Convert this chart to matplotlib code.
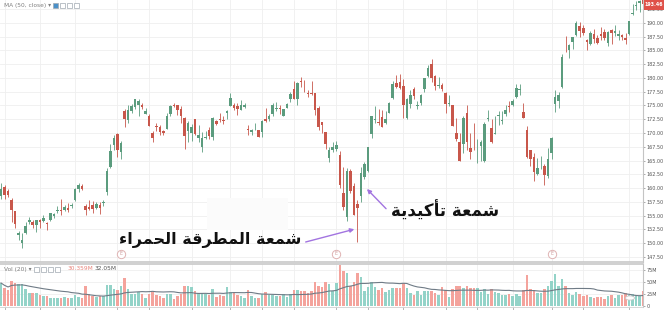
import numpy as np
import pandas as pd
import matplotlib
matplotlib.use("Agg")
import matplotlib.pyplot as plt
from matplotlib.patches import Rectangle

# daily candles, 15 Sep 2017 .. 7 Jun 2018 (one row per month)
opens = [
    158.47, 160.11, 159.51, 157.90, 155.80, 151.54, 149.99, 151.78, 153.80, 153.89, 153.21,
    154.26, 154.01, 153.63, 154.18, 154.97, 155.81, 156.06, 155.97, 156.35, 156.73, 157.90, 159.78, 160.42, 156.75, 156.61, 156.89, 156.29, 156.91, 157.23, 159.29, 163.89, 167.90,
    169.87, 166.60, 174.00, 172.37, 173.91, 174.66, 175.11, 175.11, 173.50, 173.04, 169.97, 171.18, 171.04, 170.29, 170.78, 173.36, 175.10, 175.05, 174.30, 172.63, 170.43,
    169.95, 172.48, 169.06, 167.50, 169.03, 170.49, 169.20, 172.15, 172.50, 172.40, 173.63, 174.88, 175.03, 174.87, 174.17, 174.68, 170.80, 170.10, 171.00, 170.52,
    170.16, 172.53, 172.54, 173.44, 174.35, 174.55, 173.16, 174.59, 176.18, 177.90, 176.15, 179.37, 178.61, 177.30, 177.30, 177.25, 174.51, 172.00, 170.16, 165.53, 166.87,
    167.16, 166.00, 159.10, 154.83, 163.09, 160.29, 157.07, 158.50, 161.95, 163.04, 169.79, 172.36, 172.05, 172.83, 171.80, 173.67, 176.35, 179.10, 179.26,
    178.54, 172.80, 175.21, 177.91, 174.94, 175.48, 177.96, 180.29, 182.59, 180.32, 178.50, 178.65, 177.32, 175.24, 175.04, 170.00, 168.39, 168.07, 173.68, 167.25, 167.81,
    166.64, 167.64, 164.88, 172.58, 170.97, 169.88, 173.00, 172.23, 173.41, 174.78, 175.03, 176.49, 177.81, 173.76, 170.60, 166.83, 165.67, 162.62, 164.12, 164.00, 162.13,
    166.41, 175.23, 175.88, 178.25, 185.18, 184.99, 186.55, 187.74, 189.49, 189.01, 186.78, 186.07, 188.00, 187.19, 188.00, 188.38, 186.35, 188.77, 188.23, 187.60, 187.72, 187.22,
    187.99, 191.64, 193.07, 193.63, 194.14,
]
highs = [
    160.97, 160.50, 159.77, 158.26, 155.80, 152.27, 151.83, 153.92, 154.72, 154.28, 154.13,
    154.45, 155.09, 153.86, 155.44, 155.49, 156.73, 158.00, 156.98, 157.37, 157.28, 160.00, 160.87, 160.71, 157.08, 157.75, 157.69, 157.42, 157.55, 157.83, 163.60, 168.07, 169.65,
    169.94, 168.50, 174.26, 174.99, 175.25, 176.24, 176.10, 175.38, 174.50, 173.48, 170.32, 171.87, 171.39, 170.56, 173.70, 175.00, 175.50, 175.08, 174.87, 172.92, 172.14,
    171.67, 172.62, 171.52, 170.20, 170.44, 171.00, 172.89, 172.39, 173.54, 173.13, 174.17, 177.20, 175.39, 175.42, 176.02, 175.42, 171.47, 170.78, 171.85, 170.59,
    172.30, 174.55, 173.47, 175.37, 175.61, 175.06, 174.30, 175.49, 177.36, 179.39, 179.25, 180.10, 179.58, 177.78, 179.44, 177.30, 174.95, 172.00, 170.16, 167.37, 168.44,
    168.62, 166.80, 163.88, 163.72, 163.40, 161.00, 157.89, 163.89, 164.75, 167.54, 173.09, 174.82, 174.26, 174.12, 173.95, 175.65, 179.39, 180.48, 180.62,
    179.78, 176.30, 177.74, 178.25, 175.85, 177.12, 180.00, 182.39, 183.50, 180.52, 180.24, 179.12, 177.47, 176.80, 175.09, 172.68, 169.92, 173.10, 175.15, 170.02, 171.75,
    168.94, 168.75, 172.01, 174.23, 172.48, 173.09, 174.00, 173.92, 175.00, 175.84, 176.19, 178.94, 178.82, 175.39, 171.22, 166.92, 166.33, 165.42, 165.73, 164.33, 167.26,
    169.20, 177.75, 177.50, 184.25, 187.67, 186.22, 187.40, 190.37, 190.06, 189.53, 187.07, 188.46, 188.91, 187.81, 189.27, 188.88, 188.50, 188.84, 189.65, 188.75, 188.00, 188.23,
    190.26, 193.42, 193.94, 194.08, 194.20,
]
lows = [
    158.00, 157.99, 158.44, 153.83, 152.75, 150.56, 149.16, 151.69, 153.54, 152.70, 152.00,
    152.72, 153.91, 152.46, 154.05, 154.56, 155.49, 155.10, 155.75, 155.73, 156.41, 157.65, 159.23, 159.60, 155.02, 155.96, 155.50, 156.20, 155.27, 156.78, 158.70, 163.72, 166.94,
    165.61, 165.28, 171.12, 171.72, 173.60, 174.33, 173.14, 174.27, 173.40, 171.18, 168.38, 170.30, 169.64, 169.56, 170.78, 173.05, 174.65, 173.34, 171.86, 167.16, 168.44,
    168.50, 169.63, 168.40, 166.46, 168.91, 168.82, 168.79, 171.46, 172.00, 171.65, 172.46, 174.86, 174.09, 173.25, 174.10, 174.50, 169.68, 169.71, 170.48, 169.22,
    169.26, 171.96, 172.08, 173.05, 173.93, 173.41, 173.00, 174.49, 175.65, 176.14, 175.07, 178.25, 177.41, 176.60, 176.82, 173.20, 170.53, 170.06, 167.07, 164.70, 166.50,
    166.76, 160.10, 156.00, 154.00, 159.07, 155.03, 150.24, 157.51, 161.65, 162.88, 169.00, 171.77, 171.42, 171.01, 171.71, 173.54, 176.21, 178.16, 178.05,
    172.66, 172.45, 174.52, 176.13, 174.27, 175.07, 177.39, 180.21, 179.24, 177.81, 178.07, 177.62, 173.66, 174.94, 171.26, 168.60, 164.94, 166.44, 166.92, 165.19, 166.90,
    164.47, 164.88, 164.77, 172.08, 168.20, 169.85, 171.53, 171.70, 173.04, 173.85, 174.83, 176.41, 176.88, 172.66, 165.43, 164.09, 161.22, 162.41, 163.37, 160.63, 161.84,
    165.27, 173.80, 174.44, 178.17, 184.75, 183.67, 185.22, 187.65, 187.45, 187.86, 185.10, 186.00, 186.36, 186.13, 186.91, 186.78, 185.76, 186.21, 187.65, 186.87, 186.78, 186.14,
    187.75, 191.35, 192.36, 191.92, 192.34,
]
closes = [
    159.88, 158.67, 158.73, 156.07, 153.39, 151.89, 150.55, 153.14, 154.23, 153.28, 154.12,
    153.81, 154.48, 153.48, 155.39, 155.30, 155.84, 155.90, 156.55, 156.00, 156.99, 159.88, 160.47, 159.76, 155.98, 156.25, 156.17, 157.10, 156.41, 157.41, 163.05, 166.72, 169.04,
    166.89, 168.11, 172.50, 174.25, 174.81, 176.24, 175.88, 174.67, 173.97, 171.34, 169.08, 171.10, 170.15, 169.98, 173.14, 174.96, 174.97, 174.09, 173.07, 169.48, 171.85,
    171.05, 169.80, 169.64, 169.01, 169.32, 169.37, 172.67, 171.70, 172.27, 172.22, 173.97, 176.42, 174.54, 174.35, 175.01, 175.01, 170.57, 170.60, 171.08, 169.23,
    172.26, 172.23, 173.03, 175.00, 174.35, 174.33, 174.29, 175.28, 177.09, 176.19, 179.10, 179.26, 178.46, 177.00, 177.04, 174.22, 171.11, 171.51, 167.96, 166.97, 167.43,
    167.78, 160.50, 156.49, 163.03, 159.54, 155.15, 156.41, 162.71, 164.34, 167.37, 172.99, 172.43, 171.85, 171.07, 172.50, 175.50, 178.97, 178.39, 178.12,
    175.00, 176.21, 176.82, 176.67, 175.03, 176.94, 179.98, 181.72, 179.97, 178.44, 178.65, 178.02, 175.30, 175.24, 171.27, 168.85, 164.94, 172.77, 168.34, 166.48, 167.78,
    166.68, 168.39, 171.61, 172.80, 168.38, 170.05, 173.25, 172.44, 174.14, 174.73, 175.82, 178.24, 177.84, 172.80, 165.72, 165.24, 162.94, 163.65, 164.22, 162.32, 165.26,
    169.10, 176.57, 176.89, 183.83, 185.16, 186.05, 187.36, 190.04, 188.59, 188.15, 186.44, 188.18, 186.99, 186.31, 187.63, 187.16, 188.36, 188.15, 188.58, 187.90, 187.50, 186.87,
    190.24, 191.83, 193.31, 193.98, 193.46,
]
# volume in millions
volumes = [
    48, 38, 33, 52, 47, 45, 45, 35, 28, 28, 27,
    22, 20, 21, 17, 16, 17, 16, 18, 17, 17, 23, 19, 16, 42, 24, 21, 19, 21, 20, 44, 44, 36,
    33, 41, 59, 35, 24, 25, 29, 25, 16, 24, 29, 23, 21, 16, 25, 25, 15, 20, 26, 41, 41,
    39, 32, 27, 28, 25, 23, 35, 19, 23, 20, 40, 29, 27, 23, 20, 16, 33, 21, 16, 16,
    25, 29, 22, 23, 20, 21, 24, 18, 25, 34, 34, 31, 32, 27, 32, 51, 41, 39, 50, 46, 32,
    47, 86, 72, 68, 41, 51, 68, 60, 32, 39, 50, 40, 33, 37, 30, 33, 38, 38, 37,
    48, 38, 28, 23, 31, 23, 32, 32, 32, 27, 22, 39, 33, 19, 36, 41, 41, 37, 41, 38, 38,
    37, 30, 35, 26, 35, 29, 28, 22, 22, 25, 21, 26, 20, 34, 65, 36, 33, 28, 27, 35, 42,
    53, 66, 42, 56, 42, 28, 23, 29, 26, 20, 23, 19, 17, 18, 18, 15, 20, 23, 17, 22, 22, 27,
    23, 26, 21, 20, 30.359,
]

price_ticks = [147.5, 150, 152.5, 155, 157.5, 160, 162.5, 165, 167.5, 170, 172.5, 175,
               177.5, 180, 182.5, 185, 187.5, 190, 192.5]
vol_ticks = [0, 25, 50, 75]
vol_labels = ["0", "25M", "50M", "75M"]
grid_days = [1, 11, 21, 33, 42, 54, 65, 74, 83, 95, 104, 114, 126, 135, 145, 156, 165, 178]
earnings_days = [34, 95, 156]

last_price_label = "193.46"
vol_legend = ["30.359M", "32.05M"]
note_confirm = "شمعة تأكيدية"
note_hammer = "شمعة المطرقة الحمراء"

UP = "#5b9c7e"
DOWN = "#c8574b"
VOL_UP = "#93d3c8"
VOL_DOWN = "#f4a39c"
GRID = "#efefef"
W, H = 664, 310

# --- arabic shaping (matplotlib has no text shaping) ---
FORMS = {
    "ا": "\uFE8D\uFE8E\uFE8D\uFE8E", "أ": "\uFE83\uFE84\uFE83\uFE84",
    "ء": "\uFE80\uFE80\uFE80\uFE80", "ة": "\uFE93\uFE94\uFE93\uFE94",
    "ت": "\uFE95\uFE96\uFE97\uFE98", "ح": "\uFEA1\uFEA2\uFEA3\uFEA4",
    "د": "\uFEA9\uFEAA\uFEA9\uFEAA", "ر": "\uFEAD\uFEAE\uFEAD\uFEAE",
    "ش": "\uFEB5\uFEB6\uFEB7\uFEB8", "ط": "\uFEC1\uFEC2\uFEC3\uFEC4",
    "ع": "\uFEC9\uFECA\uFECB\uFECC", "ق": "\uFED5\uFED6\uFED7\uFED8",
    "ك": "\uFED9\uFEDA\uFEDB\uFEDC", "ل": "\uFEDD\uFEDE\uFEDF\uFEE0",
    "م": "\uFEE1\uFEE2\uFEE3\uFEE4", "ي": "\uFEF1\uFEF2\uFEF3\uFEF4",
}
RIGHT_ONLY = set("اأدرةء")


def shape(text):
    out = []
    for k, ch in enumerate(text):
        if ch not in FORMS:
            out.append(ch)
            continue
        prev = text[k - 1] if k > 0 else ""
        nxt = text[k + 1] if k + 1 < len(text) else ""
        jp = prev in FORMS and prev not in RIGHT_ONLY and ch != "ء"
        jn = ch not in RIGHT_ONLY and nxt in FORMS and nxt != "ء"
        iso, fin, ini, med = FORMS[ch]
        out.append(med if (jp and jn) else fin if jp else ini if jn else iso)
    return "".join(reversed(out))


def fpx(x, y):
    # figure fraction from image pixels (origin top-left)
    return x / W, 1 - y / H


o = np.array(opens)
c = np.array(closes)
hi = np.array(highs)
lo = np.array(lows)
vol = np.array(volumes)
days = np.arange(len(o))
up = c >= o

fig = plt.figure(figsize=(W / 100, H / 100), dpi=100)
ax = fig.add_axes([0, 1 - 262 / H, 643 / W, 262 / H])
axv = fig.add_axes([0, 1 - 307 / H, 643 / W, 43 / H])

xlim = (-1 / 3.529, 642 / 3.529)

# grid
for p in price_ticks:
    ax.axhline(p, color=GRID, lw=0.6, zorder=0)
for d in grid_days:
    ax.axvline(d, color=GRID, lw=0.6, zorder=0)
    axv.axvline(d, color=GRID, lw=0.6, zorder=0)
for v in vol_ticks[1:]:
    axv.axhline(v, color=GRID, lw=0.6, zorder=0)

# candles
colors = np.where(up, UP, DOWN)
ax.vlines(days, lo, hi, colors=colors, lw=0.6, zorder=2)
body = np.maximum(np.abs(c - o), 0.12)
ax.bar(days, body, bottom=np.minimum(o, c), width=0.72, color=colors, lw=0, zorder=3)

ax.set_xlim(*xlim)
ax.set_ylim(146.58, 194.13)
ax.set_xticks([])
ax.yaxis.tick_right()
ax.set_yticks(price_ticks)
ax.set_yticklabels([f"{p:.2f}" for p in price_ticks])
ax.tick_params(axis="y", labelsize=3.5, colors="#8a8a8a", labelcolor="#555555",
               length=1.5, width=0.5, pad=1.2)
for side in ("top", "left"):
    ax.spines[side].set_visible(False)
ax.spines["right"].set_color("#c4c4c4")
ax.spines["right"].set_linewidth(0.8)
ax.spines["bottom"].set_color("#c8c8c8")
ax.spines["bottom"].set_linewidth(1.2)

# erased patch left in the screenshot
ax.add_patch(Rectangle((207 / 3.529 - 0.28, 192.5 - (230 - 9) / 5.51), 81 / 3.529, 32 / 5.51,
                       fc="#fbfbfb", ec="none", zorder=1))

# earnings markers
tr = ax.get_xaxis_transform()
for d in earnings_days:
    ax.plot(d, 0.031, marker="o", ms=6, mfc="white", mec="#dfb3b3", mew=0.7,
            transform=tr, zorder=4, clip_on=False)
    ax.text(d, 0.031, "E", fontsize=3.3, color="#cf9a9a", ha="center", va="center",
            transform=tr, zorder=5)

# volume pane
axv.bar(days, vol, width=0.72, color=np.where(up, VOL_UP, VOL_DOWN), lw=0, zorder=2)
vol_ma = pd.Series(vol).rolling(20, min_periods=1).mean()
axv.plot(days, vol_ma, color="#6f7b86", lw=0.8, zorder=3)
axv.set_xlim(*xlim)
axv.set_ylim(-2.08, 87.5)
axv.yaxis.tick_right()
axv.set_yticks(vol_ticks)
axv.set_yticklabels(vol_labels)
axv.tick_params(axis="y", labelsize=3.5, colors="#8a8a8a", labelcolor="#555555",
                length=1.5, width=0.5, pad=1.2)
axv.set_xticks(grid_days)
axv.set_xticklabels([])
axv.tick_params(axis="x", length=3, width=0.5, colors="#9a9a9a")
axv.spines["left"].set_visible(False)
axv.spines["right"].set_color("#c4c4c4")
axv.spines["right"].set_linewidth(0.8)
axv.spines["top"].set_color("#c8c8c8")
axv.spines["top"].set_linewidth(1.2)
axv.spines["bottom"].set_color("#d0d0d0")
axv.spines["bottom"].set_linewidth(0.6)

# legends
fig.text(*fpx(4, 5), "MA (50, close) ▾", fontsize=4.2, color="#808080", va="center")
fig.text(*fpx(4, 269), "Vol (20) ▾", fontsize=4.2, color="#808080", va="center")
for k in range(4):
    fig.add_artist(Rectangle(fpx(53 + 7 * k, 8), 5 / W, 5 / H, transform=fig.transFigure,
                             fc="#4a90c8" if k == 0 else "white", ec="#a0a8b0", lw=0.5))
    fig.add_artist(Rectangle(fpx(34 + 7 * k, 272), 5 / W, 5 / H, transform=fig.transFigure,
                             fc="white", ec="#a0a8b0", lw=0.5))
fig.text(*fpx(67, 269), vol_legend[0], fontsize=4.2, color="#e8857c", va="center")
fig.text(*fpx(94, 269), vol_legend[1], fontsize=4.2, color="#555555", va="center")

# last price tag
fig.add_artist(Rectangle(fpx(644, 9.5), 20 / W, 9.5 / H, transform=fig.transFigure,
                         fc="#df5149", ec="none"))
fig.text(*fpx(654, 4.8), last_price_label, fontsize=3.4, color="white",
         ha="center", va="center", fontweight="bold")

# scroll button circle in volume pane
fig.add_artist(plt.Circle(fpx(630, 298), 4.5 / W, transform=fig.transFigure,
                          fc="white", ec="#c8c8c8", lw=0.6))

# annotations
fig.text(*fpx(445.5, 211), shape(note_confirm), fontsize=12, fontweight="bold",
         family=["DejaVu Sans"], ha="center", va="center", color="#111111")
fig.text(*fpx(210.5, 240), shape(note_hammer), fontsize=11.5, fontweight="bold",
         family=["DejaVu Sans"], ha="center", va="center", color="#111111")
arrow = dict(arrowstyle="-|>", color="#a274e0", lw=1.0, mutation_scale=6)
ax.annotate("", xy=(357, H - 228.5), xycoords="figure pixels",
            xytext=(303, H - 242.7), textcoords="figure pixels",
            arrowprops=arrow, annotation_clip=False)
ax.annotate("", xy=(365, H - 187), xycoords="figure pixels",
            xytext=(388, H - 210.7), textcoords="figure pixels",
            arrowprops=arrow, annotation_clip=False)

fig.savefig("out.png", dpi=100, facecolor="white")
